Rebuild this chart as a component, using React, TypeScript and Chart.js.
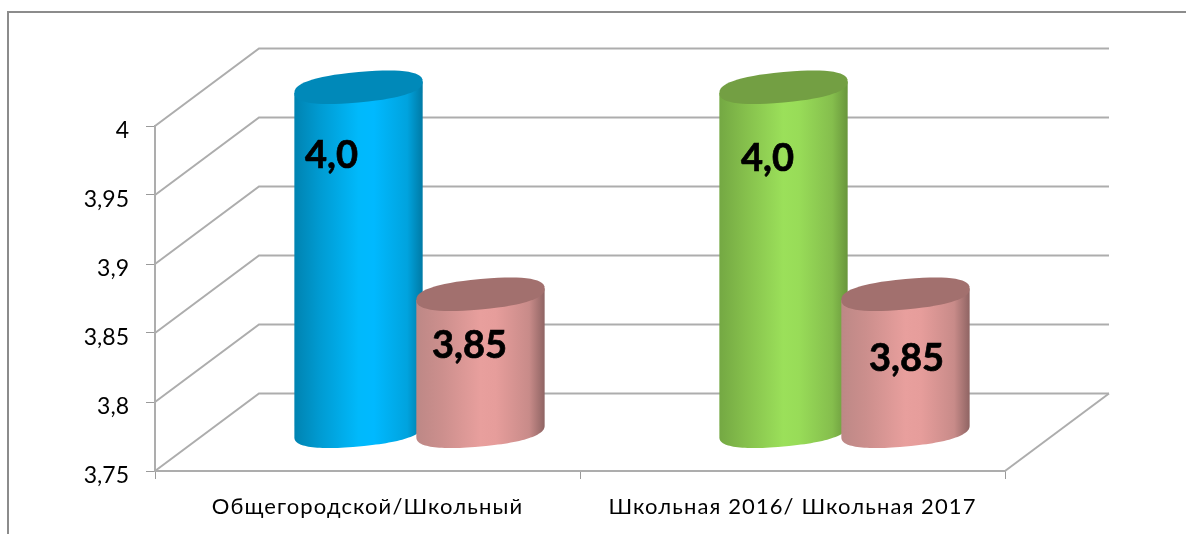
import React, { useEffect, useRef } from "react";
import { Chart, registerables } from "chart.js";

Chart.register(...registerables);

const categories = ["Общегородской/Школьный", "Школьная 2016/ Школьная 2017"];
const firstValues = [4.0, 4.0];
const secondValues = [3.85, 3.85];
const firstLabels = ["4,0", "4,0"];
const secondLabels = ["3,85", "3,85"];

const FONT = "Lato, 'Open Sans', sans-serif";
const DEPTH_X = 104;
const DEPTH_Y = 77.5;
const GRID = "#adadad";

// horizontal shading stops for a cylinder body, and the flat lid colour
const blue = { lid: "#0089b9", stops: ["#0083b1", "#009bd2", "#00b9fb", "#00b9ff", "#00a3de", "#007aa5"] };
const green = { lid: "#739f43", stops: ["#74a843", "#85bf4c", "#9be05a", "#98dc58", "#85be4d", "#69963c"] };
const rose = { lid: "#a2706e", stops: ["#bd8886", "#cc8f8d", "#e89f9d", "#e69d9b", "#c88b89", "#8f6463"] };
const looks = [[blue, green], [rose, rose]];
// label nudges relative to the bar's value point: [dataset][category] = [dx, dy]
const labelNudge = [
  [[25, 30], [36, 33]],
  [[41, 13], [53, 26]],
];
const SHEAR = 5.8;
const MINOR = 15.2;
const ROUNDNESS = 2 / 2.4;

// walks a tilted, slightly squared ellipse between two parameter angles
function rim(ctx: CanvasRenderingContext2D, cx: number, cy: number, half: number, from: number, to: number, start: boolean) {
  const steps = 60;
  for (let i = 0; i <= steps; i++) {
    const t = from + ((to - from) * i) / steps;
    const c = Math.cos(t);
    const s = Math.sin(t);
    const u = Math.sign(c) * Math.pow(Math.abs(c), ROUNDNESS);
    const v = Math.sign(s) * Math.pow(Math.abs(s), ROUNDNESS);
    const x = cx + half * u;
    const y = cy + MINOR * v - SHEAR * u;
    if (i === 0 && start) ctx.moveTo(x, y);
    else ctx.lineTo(x, y);
  }
}

function cylinder(ctx: CanvasRenderingContext2D, cx: number, top: number, base: number, half: number, look: any) {
  const g = ctx.createLinearGradient(cx - half, 0, cx + half, 0);
  const pos = [0, 0.2, 0.5, 0.62, 0.88, 1];
  look.stops.forEach((c: string, i: number) => g.addColorStop(pos[i], c));
  ctx.beginPath();
  ctx.moveTo(cx - half, top + SHEAR);
  rim(ctx, cx, base, half, Math.PI, 0, false);
  ctx.lineTo(cx + half, top - SHEAR);
  ctx.closePath();
  ctx.fillStyle = g;
  ctx.fill();
  ctx.beginPath();
  rim(ctx, cx, top, half, 0, Math.PI * 2, true);
  ctx.closePath();
  ctx.fillStyle = look.lid;
  ctx.fill();
}

const sceneryPlugin = {
  id: "scenery",
  beforeDraw(chart: any) {
    const { ctx, chartArea: area, scales } = chart;
    ctx.letterSpacing = "0px";
    ctx.save();
    ctx.fillStyle = "#fff";
    ctx.fillRect(0, 0, chart.width, chart.height);
    ctx.strokeStyle = "#8c8c8c";
    ctx.lineWidth = 2;
    ctx.beginPath();
    ctx.moveTo(8, chart.height);
    ctx.lineTo(8, 12);
    ctx.lineTo(chart.width, 12);
    ctx.stroke();
    ctx.strokeStyle = GRID;
    ctx.lineWidth = 2;
    scales.y.ticks.forEach((t: any) => {
      const y = scales.y.getPixelForValue(t.value);
      ctx.beginPath();
      ctx.moveTo(area.left, y);
      ctx.lineTo(area.left + DEPTH_X, y - DEPTH_Y);
      ctx.lineTo(area.right + DEPTH_X, y - DEPTH_Y);
      ctx.stroke();
    });
    ctx.beginPath();
    ctx.moveTo(area.right, area.bottom);
    ctx.lineTo(area.right + DEPTH_X, area.bottom - DEPTH_Y);
    ctx.stroke();
    ctx.restore();
  },
  beforeDatasetsDraw(chart: any) {
    const { ctx, chartArea: area } = chart;
    ctx.save();
    categories.forEach((_, c) => {
      [0, 1].forEach((d) => {
        const el = chart.getDatasetMeta(d).data[c];
        cylinder(ctx, el.x + DEPTH_X / 2, el.y - DEPTH_Y / 2, area.bottom - DEPTH_Y / 2 - 1, el.width * 0.526, looks[d][c]);
      });
    });
    ctx.fillStyle = "#000";
    ctx.strokeStyle = "#000";
    ctx.lineWidth = 0.7;
    ctx.font = `bold 38px ${FONT}`;
    ctx.textAlign = "center";
    ctx.textBaseline = "middle";
    [firstLabels, secondLabels].forEach((labels, d) => {
      labels.forEach((text, c) => {
        const el = chart.getDatasetMeta(d).data[c];
        ctx.fillText(text, el.x + labelNudge[d][c][0], el.y + labelNudge[d][c][1]);
        ctx.strokeText(text, el.x + labelNudge[d][c][0], el.y + labelNudge[d][c][1]);
      });
    });
    ctx.restore();
    // the x labels sit in a later layer and are the only text that is drawn spaced out
    ctx.letterSpacing = "1.1px";
    return false;
  },
  afterDraw(chart: any) {
    chart.ctx.letterSpacing = "0px";
  },
};

export default function App() {
  const ref = useRef<HTMLCanvasElement>(null);
  useEffect(() => {
    const chart = new Chart(ref.current!, {
      type: "bar",
      data: {
        labels: categories,
        datasets: [
          { label: "Первый", data: firstValues, backgroundColor: [blue.lid, green.lid] },
          { label: "Второй", data: secondValues, backgroundColor: [rose.lid, rose.lid] },
        ],
      },
      options: {
        animation: false,
        responsive: false,
        layout: { padding: { top: 126, right: 181, left: 0, bottom: 0 } },
        plugins: { legend: { display: false }, tooltip: { enabled: false } },
        datasets: { bar: { barPercentage: 1, categoryPercentage: 0.574 } },
        scales: {
          x: {
            afterFit: (s: any) => { s.height = 63; },
            grid: { drawOnChartArea: false, color: "#9a9a9a", tickLength: 8, lineWidth: 1 },
            border: { color: GRID, width: 2 },
            ticks: { z: 1, color: "#000", font: { family: FONT, size: 22 }, padding: 15, maxRotation: 0 },
          },
          y: {
            min: 3.75,
            max: 4,
            afterFit: (s: any) => { s.width = 155; },
            grid: { drawOnChartArea: false, color: "#9a9a9a", tickLength: 9, lineWidth: 1 },
            border: { color: GRID, width: 2 },
            ticks: {
              stepSize: 0.05,
              color: "#000",
              font: { family: FONT, size: 23 },
              padding: 17,
              labelOffset: 5,
              callback: (v: any) => String(Math.round(Number(v) * 100) / 100).replace(".", ","),
            },
          },
        },
      },
      plugins: [sceneryPlugin],
    } as any);
    return () => chart.destroy();
  }, []);
  return (
    <div style={{ position: "absolute", left: 0, top: 0, width: 1186, height: 534 }}>
      <canvas ref={ref} width={1186} height={534} style={{ display: "block" }} />
    </div>
  );
}
